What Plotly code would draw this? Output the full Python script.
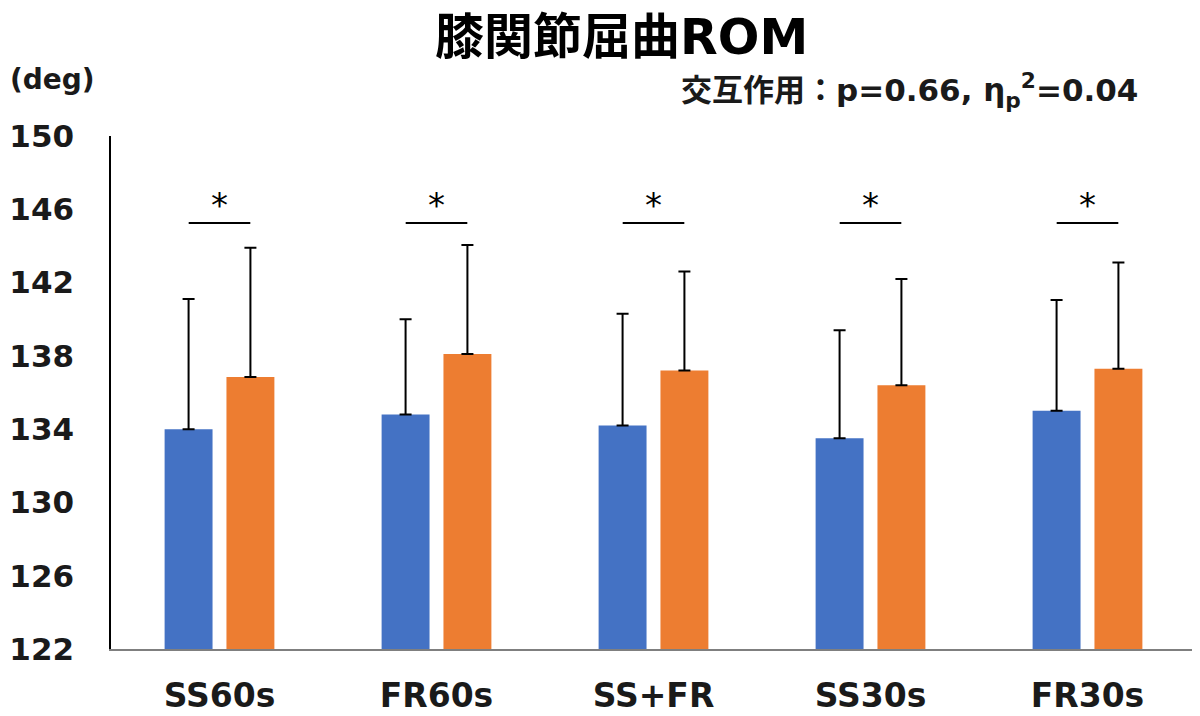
import plotly.graph_objects as go

categories = ["SS60s", "FR60s", "SS+FR", "SS30s", "FR30s"]
pre_mean = [134.0, 134.8, 134.2, 133.5, 135.0]
pre_sd = [7.1, 5.2, 6.1, 5.9, 6.05]
post_mean = [136.85, 138.1, 137.2, 136.4, 137.3]
post_sd = [7.05, 5.95, 5.4, 5.8, 5.8]
sig_level = [145.25] * 5
y_ticks = [122, 126, 130, 134, 138, 142, 146, 150]

title_text = "膝関節屈曲ROM"
interaction_text = "交互作用：p=0.66, η<sub>p</sub><sup>2</sup>=0.04"
unit_text = "(deg)"

BLUE = "#4472C4"
ORANGE = "#ED7D31"
LATIN = "DejaVu Sans, Noto Sans CJK JP"

xs = list(range(len(categories)))

fig = go.Figure()
for vals, sds, color in [(pre_mean, pre_sd, BLUE), (post_mean, post_sd, ORANGE)]:
    fig.add_trace(go.Bar(
        x=xs, y=[v - 122 for v in vals], base=122,
        marker=dict(color=color, line=dict(width=0)),
        error_y=dict(type="data", array=sds, arrayminus=[0] * len(sds), symmetric=False,
                     color="black", thickness=2, width=6),
        showlegend=False,
    ))

half = 0.142
for i, lvl in zip(xs, sig_level):
    fig.add_shape(type="line", xref="x", yref="y", x0=i - half, x1=i + half, y0=lvl, y1=lvl,
                  line=dict(color="black", width=2))
    fig.add_annotation(x=i, y=lvl, xref="x", yref="y", text="*", showarrow=False,
                       yanchor="bottom", yshift=-4,
                       font=dict(family=LATIN, size=34, color="black"))

fig.add_annotation(x=0.4705, xref="paper", y=1, yref="paper", yanchor="middle", yshift=99,
                   text=title_text, showarrow=False,
                   font=dict(family=LATIN, size=49, color="black", weight="bold"))
fig.add_annotation(x=0.948, xref="paper", xanchor="right", y=1, yref="paper", yanchor="middle",
                   yshift=46, text=interaction_text, showarrow=False,
                   font=dict(family=LATIN, size=31, color="#1a1a1a", weight="bold"))
fig.add_annotation(x=0, xref="paper", xanchor="left", xshift=-103, y=1, yref="paper",
                   yanchor="middle", yshift=57, text=unit_text, showarrow=False,
                   font=dict(family=LATIN, size=28, color="#1a1a1a", weight="bold"))

fig.update_layout(
    width=1192, height=708,
    margin=dict(l=103, r=4, t=128, b=67),
    paper_bgcolor="white", plot_bgcolor="white",
    barmode="group", bargap=0.43, bargroupgap=0.225,
    xaxis=dict(range=[-0.5, 4.5], tickmode="array", tickvals=xs, ticktext=categories,
               showgrid=False, zeroline=False, showline=True, linecolor="#7f7f7f", linewidth=1.5,
               ticks="", ticklabelstandoff=17, automargin=False,
               tickfont=dict(family=LATIN, size=33, color="#1a1a1a", weight="bold")),
    yaxis=dict(range=[122, 150], tickmode="array", tickvals=y_ticks,
               showgrid=False, zeroline=False, showline=True, linecolor="black", linewidth=1.5,
               ticks="", ticklabelstandoff=29, automargin=False,
               tickfont=dict(family=LATIN, size=31, color="#1a1a1a", weight="bold")),
)

fig.write_html("out.html")
